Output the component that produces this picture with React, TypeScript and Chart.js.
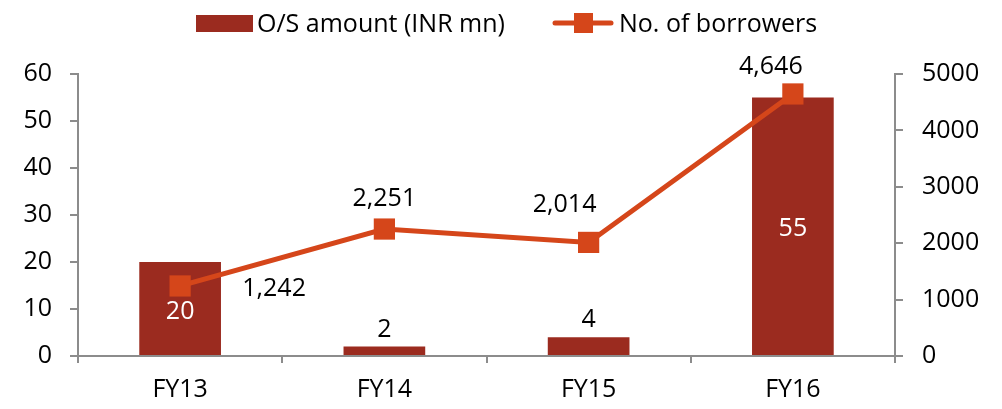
import React, { useEffect, useRef } from "react";
import { Chart, registerables } from "chart.js";

Chart.register(...registerables);

const categories = ["FY13", "FY14", "FY15", "FY16"];
const osAmount = [20, 2, 4, 55];
const borrowers = [1242, 2251, 2014, 4646];
const leftTicks = [0, 10, 20, 30, 40, 50, 60];
const rightTicks = [0, 1000, 2000, 3000, 4000, 5000];

const BAR_COLOR = "#9B2B1F";
const LINE_COLOR = "#D5461A";
const AXIS_COLOR = "#8C8C8C";
const FONT = "'Open Sans', 'DejaVu Sans', sans-serif";
const FONT_SIZE = 25;
const TEXT_SHIFT = 3;

// label offsets (styling) for line labels, in px relative to the point
const lineLabelOffsets = [
  { dx: 94, dy: 0 },
  { dx: 0, dy: -33 },
  { dx: -24, dy: -41 },
  { dx: -22, dy: -30 },
];

const fmt = (v: number) => v.toLocaleString("en-US");

const labelsPlugin = {
  id: "labelsPlugin",
  afterDatasetsDraw(chart: any) {
    const ctx = chart.ctx;
    ctx.save();
    ctx.font = `${FONT_SIZE}px ${FONT}`;
    ctx.textAlign = "center";
    ctx.textBaseline = "middle";
    const barMeta = chart.getDatasetMeta(1);
    barMeta.data.forEach((bar: any, i: number) => {
      const h = bar.base - bar.y;
      if (h > 30) {
        ctx.fillStyle = "#ffffff";
        ctx.fillText(String(osAmount[i]), bar.x, (bar.y + bar.base) / 2 + TEXT_SHIFT);
      } else {
        ctx.fillStyle = "#000000";
        ctx.fillText(String(osAmount[i]), bar.x, bar.y - 20 + TEXT_SHIFT);
      }
    });
    const lineMeta = chart.getDatasetMeta(0);
    lineMeta.data.forEach((pt: any, i: number) => {
      const o = lineLabelOffsets[i];
      ctx.fillStyle = "#000000";
      ctx.fillText(fmt(borrowers[i]), pt.x + o.dx, pt.y + o.dy + TEXT_SHIFT);
    });
    ctx.restore();
  },
  afterDraw(chart: any) {
    const ctx = chart.ctx;
    ctx.save();
    ctx.font = `${FONT_SIZE}px ${FONT}`;
    ctx.textBaseline = "alphabetic";
    ctx.textAlign = "left";
    const baseline = 32;
    // bar legend
    ctx.fillStyle = BAR_COLOR;
    ctx.fillRect(196, 15, 57, 17);
    ctx.fillStyle = "#000";
    ctx.fillText("O/S amount (INR mn)", 257, baseline);
    // line legend
    ctx.strokeStyle = LINE_COLOR;
    ctx.lineWidth = 5;
    ctx.lineCap = "round";
    ctx.beginPath();
    ctx.moveTo(555, 23);
    ctx.lineTo(611, 23);
    ctx.stroke();
    ctx.fillStyle = LINE_COLOR;
    ctx.fillRect(574, 13, 19, 20);
    ctx.fillStyle = "#000";
    ctx.fillText("No. of borrowers", 619, baseline);
    ctx.restore();
  },
};

export default function App() {
  const ref = useRef<HTMLCanvasElement | null>(null);
  useEffect(() => {
    document.body.style.margin = "0";
    const canvas = ref.current!;
    const tickFont = { family: FONT, size: FONT_SIZE };
    const chart = new Chart(canvas, {
      type: "bar",
      data: {
        labels: categories,
        datasets: [
          {
            type: "line",
            label: "No. of borrowers",
            data: borrowers,
            yAxisID: "y1",
            borderColor: LINE_COLOR,
            backgroundColor: LINE_COLOR,
            borderWidth: 5,
            pointStyle: "rect",
            pointRadius: 15,
            pointBorderWidth: 0,
            pointBackgroundColor: LINE_COLOR,
            tension: 0,
            order: 0,
          } as any,
          {
            type: "bar",
            label: "O/S amount (INR mn)",
            data: osAmount,
            yAxisID: "y",
            backgroundColor: BAR_COLOR,
            categoryPercentage: 1,
            barPercentage: 0.4,
            order: 1,
          },
        ],
      },
      options: {
        responsive: false,
        animation: false,
        layout: { padding: { top: 74, left: 0, right: 0, bottom: 0 } },
        plugins: { legend: { display: false }, tooltip: { enabled: false } },
        scales: {
          x: {
            offset: true,
            grid: {
              display: true,
              offset: true,
              drawOnChartArea: false,
              drawTicks: true,
              tickLength: 7,
              color: AXIS_COLOR,
              lineWidth: 2,
            },
            border: { display: true, color: AXIS_COLOR, width: 2 },
            ticks: { color: "#000", font: tickFont, padding: 12 },
            afterFit(scale: any) {
              scale.height = 53;
            },
          },
          y: {
            position: "left",
            min: 0,
            max: 60,
            afterBuildTicks(scale: any) {
              scale.ticks = leftTicks.map((v) => ({ value: v }));
            },
            grid: {
              display: true,
              drawOnChartArea: false,
              drawTicks: true,
              tickLength: 8,
              color: AXIS_COLOR,
              lineWidth: 2,
            },
            border: { display: true, color: AXIS_COLOR, width: 2 },
            ticks: { color: "#000", font: tickFont, padding: 18 },
            afterFit(scale: any) {
              scale.width = 78;
            },
          },
          y1: {
            position: "right",
            min: 0,
            max: 5000,
            afterBuildTicks(scale: any) {
              scale.ticks = rightTicks.map((v) => ({ value: v }));
            },
            grid: {
              display: true,
              drawOnChartArea: false,
              drawTicks: true,
              tickLength: 8,
              color: AXIS_COLOR,
              lineWidth: 2,
            },
            border: { display: true, color: AXIS_COLOR, width: 2 },
            ticks: {
              color: "#000",
              font: tickFont,
              padding: 19,
              callback: (v: any) => String(v),
            },
            afterFit(scale: any) {
              scale.width = 107;
            },
          },
        },
      },
      plugins: [labelsPlugin],
    });
    return () => chart.destroy();
  }, []);
  return <canvas ref={ref} width={1002} height={409} style={{ display: "block" }} />;
}
